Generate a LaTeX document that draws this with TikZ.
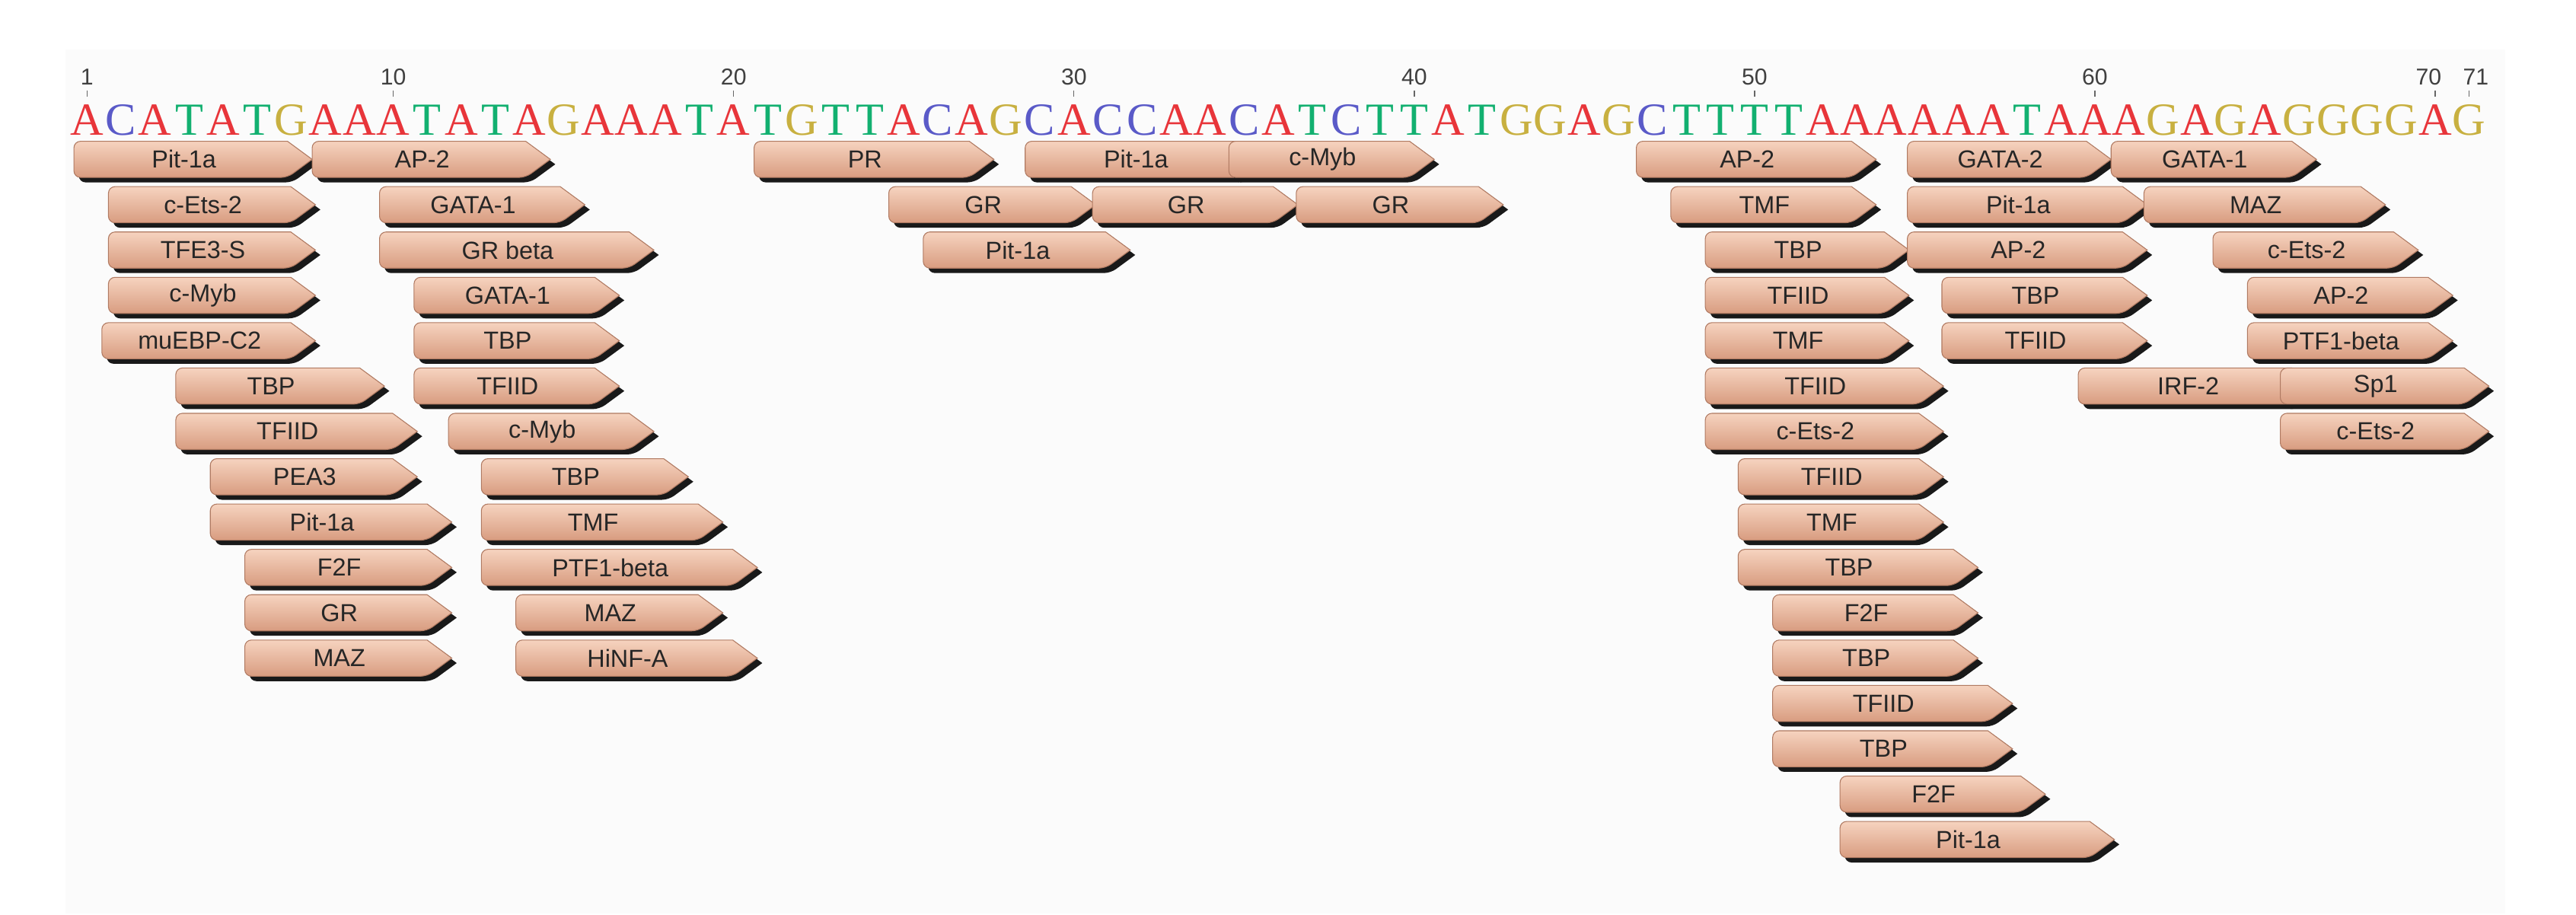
\documentclass[tikz,border=0pt]{standalone}
\usepackage{fontspec}
\setmainfont{Liberation Sans}
\newfontfamily\seqfont{Liberation Serif}
\definecolor{colA}{HTML}{E8353A}
\definecolor{colC}{HTML}{5A5AC8}
\definecolor{colG}{HTML}{C8B040}
\definecolor{colT}{HTML}{12B070}
\definecolor{boxtop}{HTML}{F6D3BF}
\definecolor{boxbot}{HTML}{D89C80}
\definecolor{boxline}{HTML}{B07A62}
\tikzset{lbl/.style={font=\fontsize{15}{15}\selectfont, text=black!85, inner sep=0pt},
 seq/.style={font=\seqfont\fontsize{28}{28}\selectfont, inner sep=0pt},
 num/.style={font=\fontsize{14}{14}\selectfont, text=black!75, inner sep=0pt}}
\begin{document}
\begin{tikzpicture}[x=1pt,y=-1pt]
\useasboundingbox (0,0) rectangle (1568,556.5);
\fill[black!1.5] (40,30) rectangle (1525,556);
% sequence
\foreach \ch [count=\i] in {A,C,A,T,A,T,G,A,A,A,T,A,T,A,G,A,A,A,T,A,T,G,T,T,A,C,A,G,C,A,C,C,A,A,C,A,T,C,T,T,A,T,G,G,A,G,C,T,T,T,T,A,A,A,A,A,A,T,A,A,A,G,A,G,A,G,G,G,G,A,G}{
  \node[seq, text=col\ch] (s\i) at ({53+(\i-1)*20.714},73) {\ch};
}
\foreach \n in {1,10,20,30,40,50,60,70,71}{
  \node[num] (n\n) at ({53+(\n-1)*20.714+(\n==70?-4:0)+(\n==71?4:0)},47) {\n};
  \draw[black!60, line width=0.6pt] ({53+(\n-1)*20.714},55) -- ({53+(\n-1)*20.714},59);
}
% boxes
\foreach \l/\r/\row/\t [count=\i] in {
45/190/1/Pit-1a, 190/335/1/AP-2, 459/605/1/PR, 624/770/1/Pit-1a, 748/873/1/c-Myb, 996/1142/1/AP-2, 1161/1285/1/GATA-2, 1285/1410/1/GATA-1,
66/192/2/c-Ets-2, 231/356/2/GATA-1, 541/667/2/GR, 665/790/2/GR, 789/915/2/GR, 1017/1142/2/TMF, 1161/1307/2/Pit-1a, 1305/1452/2/MAZ,
66/192/3/TFE3-S, 231/398/3/GR beta, 562/688/3/Pit-1a, 1038/1162/3/TBP, 1161/1307/3/AP-2, 1347/1472/3/c-Ets-2,
66/192/4/c-Myb, 252/377/4/GATA-1, 1038/1162/4/TFIID, 1182/1307/4/TBP, 1368/1493/4/AP-2,
62/192/5/muEBP-C2, 252/377/5/TBP, 1038/1162/5/TMF, 1182/1307/5/TFIID, 1368/1493/5/PTF1-beta,
107/234/6/TBP, 252/377/6/TFIID, 1038/1183/6/TFIID, 1265/1410/6/IRF-2, 1388/1515/6/Sp1,
107/254/7/TFIID, 273/398/7/c-Myb, 1038/1183/7/c-Ets-2, 1388/1515/7/c-Ets-2,
128/254/8/PEA3, 293/419/8/TBP, 1058/1183/8/TFIID,
128/275/9/Pit-1a, 293/440/9/TMF, 1058/1183/9/TMF,
149/275/10/F2F, 293/461/10/PTF1-beta, 1058/1204/10/TBP,
149/275/11/GR, 314/440/11/MAZ, 1079/1204/11/F2F,
149/275/12/MAZ, 314/461/12/HiNF-A, 1079/1204/12/TBP,
1079/1225/13/TFIID, 1079/1225/14/TBP, 1120/1245/15/F2F, 1120/1287/16/Pit-1a}{
  \pgfmathsetmacro{\c}{97+(\row-1)*27.6}
  \pgfmathsetmacro{\tp}{\c-11}
  \pgfmathsetmacro{\bt}{\c+11}
  \pgfmathsetmacro{\k}{\r-15}
  \fill[black!90, rounded corners=4pt] (\k+3,\tp+3) -- (\l+3,\tp+3) -- (\l+3,\bt+3) -- (\k+3,\bt+3) [sharp corners] -- (\r+3,\c+3) -- cycle;
  \draw[boxline, line width=0.5pt, top color=boxtop, bottom color=boxbot, rounded corners=4pt] (\k,\tp) -- (\l,\tp) -- (\l,\bt) -- (\k,\bt) [sharp corners] -- (\r,\c) -- cycle;
  \node[lbl] (b\i) at ({(\l+\k)/2+2},\c) {\t};
}
\end{tikzpicture}
\end{document}
